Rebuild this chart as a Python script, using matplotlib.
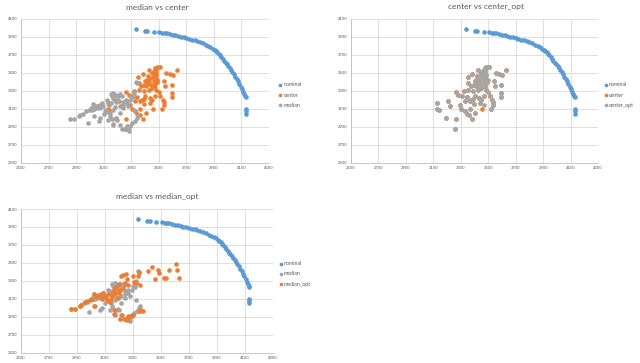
import matplotlib
matplotlib.use('Agg')
import matplotlib.pyplot as plt

plt.rcParams['font.family'] = ['Lato', 'DejaVu Sans']

BLUE = '#5B9BD5'
ORANGE = '#ED7D31'
GRAY = '#A5A5A5'
TXT = '#595959'

x_ticks = [2500, 2700, 2900, 3100, 3300, 3500, 3700, 3900, 4100, 4300]
y_ticks = [2500, 2700, 2900, 3100, 3300, 3500, 3700, 3900, 4100]

nominal_x = [3336, 3403, 3418, 3466, 3504, 3525, 3545, 3560, 3580, 3600, 3620, 3640, 3660, 3680,
             3700, 3720, 3740, 3760, 3780, 3800, 3820, 3840, 3860, 3875, 3890, 3905, 3915, 3925,
             3935, 3945, 3955, 3965, 3975, 3985, 3995, 4005, 4015, 4025, 4035, 4045, 4055, 4065,
             4075, 4085, 4095, 4105, 4112, 4118, 4125, 4130, 4132, 4132, 4130]
nominal_y = [3985, 3970, 3967, 3960, 3952, 3948, 3944, 3940, 3932, 3925, 3918, 3910, 3903, 3896,
             3890, 3880, 3872, 3862, 3852, 3840, 3828, 3815, 3800, 3788, 3772, 3758, 3745, 3730,
             3715, 3700, 3680, 3658, 3637, 3615, 3595, 3573, 3552, 3530, 3508, 3485, 3460, 3435,
             3408, 3380, 3350, 3318, 3290, 3265, 3245, 3235, 3100, 3080, 3048]

center_x = [3128, 3128, 3141, 3189, 3264, 3257, 3208, 3225, 3264, 3281, 3293, 3305, 3329, 3342,
            3361, 3385, 3407, 3395, 3366, 3378, 3402, 3390, 3354, 3371, 3354, 3349, 3385, 3419,
            3426, 3450, 3463, 3475, 3487, 3506, 3463, 3467, 3475, 3402, 3409, 3426, 3450, 3482,
            3499, 3511, 3530, 3538, 3535, 3523, 3547, 3540, 3555, 3579, 3603, 3632, 3596, 3596,
            3596, 3434, 3450, 3470, 3390, 3438, 3366, 3478, 3480, 3482, 3478, 3485, 3470, 3488,
            3415, 3430, 3440, 3420, 3445, 3395, 3310, 3330, 3345, 3320,
            3414, 3475, 3455]
center_y = [3168, 3102, 3094, 3003, 2984, 2882, 3194, 3138, 3285, 3260, 3149, 3102, 3076, 3050,
            3032, 2992, 3058, 3157, 3186, 3205, 3249, 3296, 3315, 3351, 3388, 3454, 3491, 3462,
            3535, 3498, 3527, 3553, 3564, 3572, 3462, 3406, 3359, 3406, 3351, 3315, 3333, 3315,
            3285, 3249, 3205, 3175, 3149, 3102, 3359, 3406, 3498, 3491, 3480, 3535, 3370, 3278,
            3234, 3223, 3205, 3250, 3212, 3168, 3102, 3530, 3505, 3480, 3440, 3420, 3385, 3395,
            3380, 3400, 3370, 3420, 3440, 3370, 3240, 3190, 3230, 3300,
            3425, 3388, 3102]

center_opt_x = [3128, 3128, 3141, 3189, 3264, 3257, 3208, 3225, 3264, 3281, 3293, 3305, 3329, 3342,
                3361, 3385, 3407, 3395, 3366, 3378, 3402, 3390, 3354, 3371, 3354, 3349, 3385, 3419,
                3426, 3450, 3463, 3475, 3487, 3506, 3463, 3467, 3475, 3402, 3409, 3426, 3450, 3482,
                3499, 3511, 3530, 3538, 3535, 3523, 3547, 3540, 3555, 3579, 3603, 3632, 3596, 3596,
                3596, 3434, 3450, 3470, 3390, 3438, 3366, 3478, 3480, 3482, 3478, 3485, 3470, 3488,
                3415, 3430, 3440, 3420, 3445, 3395, 3310, 3330, 3345, 3320,
                3440, 3500, 3470]
center_opt_y = [3168, 3102, 3094, 3003, 2984, 2882, 3194, 3138, 3285, 3260, 3149, 3102, 3076, 3050,
                3032, 2992, 3058, 3157, 3186, 3205, 3249, 3296, 3315, 3351, 3388, 3454, 3491, 3462,
                3535, 3498, 3527, 3553, 3564, 3572, 3462, 3406, 3359, 3406, 3351, 3315, 3333, 3315,
                3285, 3249, 3205, 3175, 3149, 3102, 3359, 3406, 3498, 3491, 3480, 3535, 3370, 3278,
                3234, 3223, 3205, 3250, 3212, 3168, 3102, 3530, 3505, 3480, 3440, 3420, 3385, 3395,
                3380, 3400, 3370, 3420, 3440, 3370, 3240, 3190, 3230, 3300,
                3470, 3420, 3140]

median_x = [2858, 2887, 2918, 2930, 2950, 2974, 2991, 3008, 3015, 3027, 3039, 3051, 3071, 3088,
            2986, 3027, 3065, 3076, 3100, 3112, 3136, 3153, 3160, 3178, 3192, 3202, 3216, 3233,
            3241, 3265, 3323, 3342, 3148, 3160, 3168, 3192, 3216, 3233, 3265, 3282, 3294, 3306,
            3330, 3342, 3350, 3121, 3133, 3145, 3169, 3181, 3205, 3150, 3169, 3193, 3116, 3133,
            3145, 3169, 3181, 3133, 3169, 3198, 3217, 3266, 3278, 3241, 3266, 3278, 3290, 3302,
            3314, 3319, 3333, 3217, 3241, 3019, 3036, 3053, 3068, 3077, 3097, 3084, 3319]
median_y = [2984, 2984, 3021, 3032, 3050, 3076, 3087, 3113, 3094, 3102, 3124, 3138, 3150, 3168,
            2948, 3021, 2972, 2999, 3050, 3076, 3150, 3168, 3241, 3212, 3175, 3241, 3267, 3249,
            3150, 3197, 3278, 3388, 3021, 2984, 2929, 2984, 2918, 2874, 2882, 2856, 2911, 2940,
            2966, 3003, 3021, 3202, 3183, 3165, 3220, 3202, 3202, 3264, 3276, 3257, 3091, 3072,
            3054, 3091, 3120, 2980, 2924, 2980, 3054, 2906, 2887, 3183, 3165, 3128, 3202, 3246,
            3231, 3294, 3405, 3128, 3109, 3157, 3128, 3109, 3128, 3109, 3128, 3146, 3087]

median_opt_x = [2858, 2888, 2919, 2928, 2954, 2971, 2994, 3006, 3022, 3036, 3053, 3065, 3088, 3107,
                3124, 3135, 3147, 3154, 3164, 3171, 3182, 3201, 3211, 3229, 3248, 3258, 3241, 3265,
                3300, 3307, 3324, 3335, 3342, 3347, 3406, 3436, 3476, 3483, 3460, 3524, 3535, 3554,
                3606, 3611, 3625, 3171, 3218, 3206, 3240, 3265, 3276, 3290, 3300, 3342, 3352, 3359,
                3371, 3260, 3024, 3080, 3100, 3115, 3140, 3160, 3190, 3200, 3210, 3230, 3165]
median_opt_y = [2987, 2987, 3024, 3032, 3061, 3068, 3087, 3094, 3153, 3135, 3131, 3142, 3161, 3117,
                3153, 3068, 3131, 3179, 3205, 3168, 3235, 3264, 3353, 3364, 3375, 3316, 3279, 3253,
                3353, 3290, 3279, 3353, 3400, 3253, 3408, 3456, 3426, 3382, 3316, 3334, 3327, 3426,
                3493, 3426, 3327, 2976, 2921, 2873, 2880, 2900, 2910, 2920, 2925, 2965, 2960, 2976,
                2965, 2860, 3020, 3100, 3130, 3090, 3100, 3150, 3110, 3160, 3200, 3215, 2930]

fig = plt.figure(figsize=(6.4, 3.63), dpi=100)


def make_ax(rect, title, title_xy, series, leg_anchor):
    ax = fig.add_axes(rect)
    ax.set_xlim(2500, 4300)
    ax.set_ylim(2500, 4100)
    ax.set_xticks(x_ticks)
    ax.set_yticks(y_ticks)
    ax.grid(True, color='#D9D9D9', lw=0.6)
    ax.set_axisbelow(True)
    for s in ['top', 'right']:
        ax.spines[s].set_visible(False)
    for s in ['left', 'bottom']:
        ax.spines[s].set_color('#BFBFBF')
        ax.spines[s].set_linewidth(0.6)
    ax.tick_params(length=0, labelsize=3, colors=TXT, pad=2.5)
    for lab, xs, ys, col in series:
        ax.scatter(xs, ys, s=11, c=col, linewidths=0, label=lab)
    ax.legend(loc='center left', bbox_to_anchor=leg_anchor, frameon=False, fontsize=3.8,
              markerscale=0.8, handletextpad=0.1, labelspacing=1.0, handlelength=1.0,
              borderpad=0, borderaxespad=0, labelcolor=TXT)
    fig.text(title_xy[0], title_xy[1], title, ha='center', va='center', fontsize=6, color=TXT)
    return ax


make_ax([21 / 640, 1 - 163 / 363, 248 / 640, 144 / 363], 'median vs center',
        (157 / 640, 1 - 7 / 363),
        [('nominal', nominal_x, nominal_y, BLUE),
         ('center', center_x, center_y, ORANGE),
         ('median', median_x, median_y, GRAY)],
        (1.035, 0.472))

make_ax([351 / 640, 1 - 163 / 363, 247 / 640, 144 / 363], 'center vs center_opt',
        (486 / 640, 1 - 7 / 363),
        [('nominal', nominal_x, nominal_y, BLUE),
         ('center', center_x, center_y, ORANGE),
         ('center_opt', center_opt_x, center_opt_y, GRAY)],
        (1.02, 0.472))

make_ax([21 / 640, 1 - 352.7 / 363, 252 / 640, 143.7 / 363], 'median vs median_opt',
        (157 / 640, 1 - 196 / 363),
        [('nominal', nominal_x, nominal_y, BLUE),
         ('median', median_x, median_y, GRAY),
         ('median_opt', median_opt_x, median_opt_y, ORANGE)],
        (1.02, 0.548))

fig.savefig('out.png', dpi=100, facecolor='white')
